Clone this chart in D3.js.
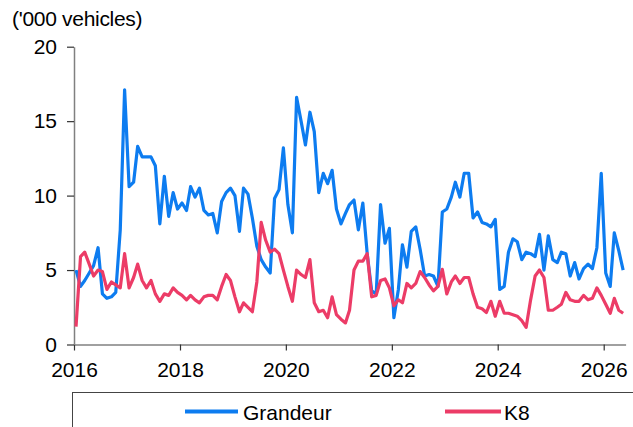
<!DOCTYPE html>
<html lang="en">
<head>
<meta charset="UTF-8">
<title>Grandeur vs K8 monthly sales</title>
<style>
  body { margin: 0; background: #fff; }
  svg { display: block; font-family: "Liberation Sans", Arial, sans-serif; }
  .axis text { font-size: 21px; fill: #000; }
</style>
</head>
<body>
<svg id="chart" width="633" height="427"></svg>
<script src="https://cdnjs.cloudflare.com/ajax/libs/d3/7.8.5/d3.min.js"></script>
<script>

// monthly, Jan 2016 .. May 2026
let startMonth = new Date(2016, 0, 1);
let endMonth = new Date(2026, 5, 1);
let months = d3.timeMonth.range(startMonth, endMonth);

let yTicks = [0, 5, 10, 15, 20];
let seriesNames = ["Grandeur", "K8"];

let grandeur = [
  5.0, 3.9, 4.3, 4.8, 5.3, 6.5, 3.4, 3.1, 3.2, 3.5, 7.7, 17.1,
  10.6, 10.9, 13.3, 12.6, 12.6, 12.6, 12.0, 8.1, 11.3, 8.6, 10.2, 9.1,
  9.5, 9.0, 10.6, 9.9, 10.5, 9.0, 8.7, 8.8, 7.5, 9.6, 10.2, 10.5,
  10.0, 7.6, 10.5, 10.1, 8.5, 6.6, 5.7, 5.2, 4.8, 9.8, 10.4, 13.2,
  9.4, 7.5, 16.6, 15.0, 13.4, 15.6, 14.3, 10.2, 11.5, 10.8, 11.7, 9.1,
  8.1, 8.8, 9.4, 9.7, 7.7, 9.5, 6.1, 3.6, 3.4, 9.4, 6.8, 7.8,
  1.8, 3.7, 6.7, 5.2, 7.6, 7.9, 6.4, 4.6, 4.7, 4.6, 3.9, 8.9,
  9.1, 9.9, 10.9, 9.9, 11.5, 11.5, 8.5, 8.9, 8.2, 8.1, 7.9, 8.4,
  3.7, 3.9, 6.2, 7.1, 6.9, 5.7, 6.2, 6.1, 5.9, 7.4, 5.0, 7.3,
  5.7, 5.5, 6.2, 6.1, 4.6, 5.5, 4.4, 5.1, 5.4, 5.1, 6.5, 11.5,
  4.8, 3.9, 7.5, 6.3, 5.0
];

let k8 = [
  1.2, 5.9, 6.2, 5.4, 4.6, 5.0, 4.9, 3.7, 4.2, 4.0, 3.8, 6.1,
  3.8, 4.5, 5.4, 4.3, 3.8, 4.3, 3.4, 2.9, 3.4, 3.3, 3.8, 3.5,
  3.3, 3.0, 3.3, 3.0, 2.8, 3.2, 3.3, 3.3, 3.0, 3.9, 4.7, 4.3,
  3.2, 2.2, 2.8, 2.5, 2.2, 4.2, 8.2, 7.0, 6.2, 6.4, 6.1, 5.0,
  3.9, 2.9, 5.0, 4.7, 4.5, 5.7, 2.8, 2.2, 2.3, 1.8, 3.2, 2.0,
  1.7, 1.45, 2.3, 5.0, 5.6, 5.6, 6.1, 3.2, 3.3, 4.3, 4.4, 3.8,
  2.6, 3.0, 2.8, 4.1, 3.8, 4.1, 4.9, 4.5, 4.0, 3.6, 3.9, 5.05,
  3.4, 4.2, 4.6, 4.1, 4.5, 4.5, 3.4, 2.5, 2.4, 2.15, 2.9, 1.9,
  2.9, 2.1, 2.1, 2.0, 1.9, 1.6, 1.15, 3.0, 4.6, 5.0, 4.5, 2.3,
  2.3, 2.5, 2.7, 3.5, 3.0, 2.9, 2.9, 3.3, 3.0, 3.1, 3.8, 3.3,
  2.7, 2.1, 3.1, 2.3, 2.1
];

let colors = ["#0d7cf0", "#ec3c67"];

let svg = d3.select("#chart");
let margin = {left: 74, right: 625.6, top: 46.7, bottom: 344.5};

let x = d3.scaleTime()
  .domain([startMonth, endMonth])
  .range([margin.left, margin.right]);

let y = d3.scaleLinear()
  .domain([0, 20])
  .range([margin.bottom, margin.top]);

// point sits mid-month
let midMonth = d => d3.timeDay.offset(d, 14);

svg.append("g")
  .attr("class", "axis")
  .attr("transform", "translate(0," + margin.bottom + ")")
  .call(d3.axisBottom(x)
    .ticks(d3.timeYear.every(2))
    .tickFormat(d3.timeFormat("%Y"))
    .tickSize(6)
    .tickSizeOuter(0)
    .tickPadding(12));

svg.append("g")
  .attr("class", "axis")
  .attr("transform", "translate(" + margin.left + ",0)")
  .call(d3.axisLeft(y)
    .tickValues(yTicks)
    .tickSize(7)
    .tickSizeOuter(0)
    .tickPadding(10));

svg.selectAll(".axis .domain").attr("stroke", "#808080").attr("stroke-width", 1.5);
svg.selectAll(".axis .tick line").attr("stroke", "#333").attr("stroke-width", 1.2);

let line = d3.line()
  .x((d, i) => x(midMonth(months[i])))
  .y(d => y(d));

[grandeur, k8].forEach((s, k) => {
  svg.append("path")
    .datum(s)
    .attr("fill", "none")
    .attr("stroke", colors[k])
    .attr("stroke-width", 3.2)
    .attr("stroke-linejoin", "round")
    .attr("d", line);
});

// unit label
svg.append("text")
  .attr("x", 12)
  .attr("y", 26)
  .attr("font-size", 21)
  .attr("letter-spacing", -0.3)
  .text("('000 vehicles)");

// legend box
svg.append("rect")
  .attr("x", 72.5)
  .attr("y", 392.5)
  .attr("width", 620)
  .attr("height", 80)
  .attr("fill", "none")
  .attr("stroke", "#444")
  .attr("stroke-width", 1);

let legendX = [185, 445];
let legend = svg.selectAll(".legend")
  .data(seriesNames)
  .enter()
  .append("g")
  .attr("class", "legend")
  .attr("transform", (d, i) => "translate(" + legendX[i] + ",0)");

legend.append("line")
  .attr("x1", 0)
  .attr("x2", (d, i) => i == 0 ? 53 : 56)
  .attr("y1", 411.5)
  .attr("y2", 411.5)
  .attr("stroke", (d, i) => colors[i])
  .attr("stroke-width", 4);

legend.append("text")
  .attr("x", (d, i) => i == 0 ? 58 : 59)
  .attr("y", 420)
  .attr("font-size", 21)
  .text(d => d);

</script>
</body>
</html>
